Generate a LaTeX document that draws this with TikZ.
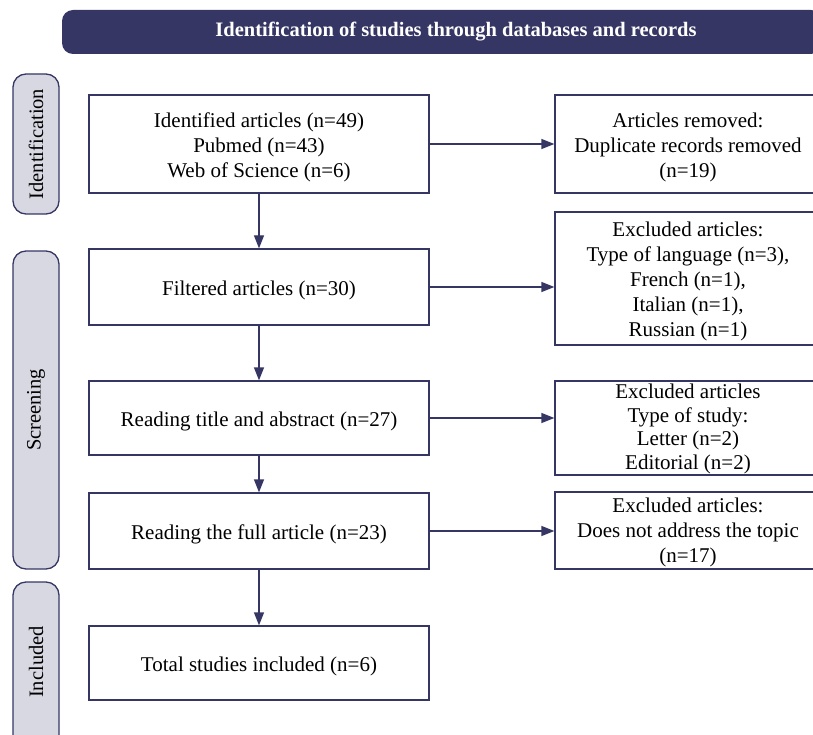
\documentclass[tikz,border=0pt]{standalone}
\usepackage{fontspec}
\setmainfont{Liberation Serif}
\usetikzlibrary{arrows.meta,calc}
\definecolor{navy}{HTML}{363665}
\definecolor{pill}{HTML}{D8D8E2}
\tikzset{
  box/.style={draw=navy, line width=1.3pt, fill=white, minimum width=340pt, inner sep=0pt},
  rbox/.style={draw=navy, line width=1.3pt, fill=white, minimum width=266pt, inner sep=0pt},
  txt/.style={align=center, inner sep=0pt, font=\fontsize{21}{25}\selectfont, yshift=-3pt},
  phase/.style={draw=navy, line width=1.3pt, fill=pill, rounded corners=13pt, minimum width=46pt, inner sep=0pt},
  phtext/.style={rotate=90, font=\fontsize{20.5}{22}\selectfont},
  arr/.style={draw=navy, line width=1.3pt, -{Triangle[length=13pt,width=10pt]}},
}
\begin{document}
\begin{tikzpicture}[x=1pt,y=-1pt]
\useasboundingbox (0,0) rectangle (813,735);
\begin{scope}
\clip (0,0) rectangle (813,735);
% banner
\node[fill=navy, rounded corners=11pt, minimum width=760pt, minimum height=44pt, inner sep=0pt] (banner) at (442,32) {};
\node[text=white, font=\bfseries\fontsize{20.5}{22}\selectfont] (btext) at (456,32) {Identification of studies through databases and records};
% phases
\node[phase, minimum height=140pt] (pid) at (36,144) {};
\node[phtext] (tid) at (pid.center) {Identification};
\node[phase, minimum height=318pt] (psc) at (36,410) {};
\node[phtext] (tsc) at (psc.center) {Screening};
\node[phase, minimum height=170pt] (pin) at (36,667) {};
\node[phtext] (tin) at (36,662) {Included};
% main boxes
\node[box, minimum height=98pt] (b1) at (259,144) {};
\node[txt] (b1t) at (b1.center) {Identified articles (n=49)\\Pubmed (n=43)\\Web of Science (n=6)};
\node[box, minimum height=76pt] (b2) at (259,287) {};
\node[txt] (b2t) at (b2.center) {Filtered articles (n=30)};
\node[box, minimum height=74pt] (b3) at (259,418) {};
\node[txt] (b3t) at (b3.center) {Reading title and abstract (n=27)};
\node[box, minimum height=76pt] (b4) at (259,531) {};
\node[txt] (b4t) at (b4.center) {Reading the full article (n=23)};
\node[box, minimum height=74pt] (b5) at (259,663) {};
\node[txt] (b5t) at (b5.center) {Total studies included (n=6)};
% right boxes
\node[rbox, minimum height=98pt] (r1) at (688,144) {};
\node[txt] (r1t) at (r1.center) {Articles removed:\\Duplicate records removed\\(n=19)};
\node[rbox, minimum height=133pt] (r2) at (688,278.5) {};
\node[txt] (r2t) at (r2.center) {Excluded articles:\\Type of language (n=3),\\French (n=1),\\Italian (n=1),\\Russian (n=1)};
\node[rbox, minimum height=94pt] (r3) at (688,428) {};
\node[txt, font=\fontsize{21}{23.5}\selectfont, yshift=2pt] (r3t) at (r3.center) {Excluded articles\\Type of study:\\Letter (n=2)\\Editorial (n=2)};
\node[rbox, minimum height=77pt] (r4) at (688,530.5) {};
\node[txt, yshift=1pt] (r4t) at (r4.center) {Excluded articles:\\Does not address the topic\\(n=17)};
% arrows
\draw[arr] (b1) -- (b2);
\draw[arr] (b2) -- (b3);
\draw[arr] (b3) -- (b4);
\draw[arr] (b4) -- (b5);
\draw[arr] (b1.east) -- (b1.east -| r1.west);
\draw[arr] (b2.east) -- (b2.east -| r2.west);
\draw[arr] (b3.east) -- (b3.east -| r3.west);
\draw[arr] (b4.east) -- (b4.east -| r4.west);
\end{scope}
\end{tikzpicture}
\end{document}
